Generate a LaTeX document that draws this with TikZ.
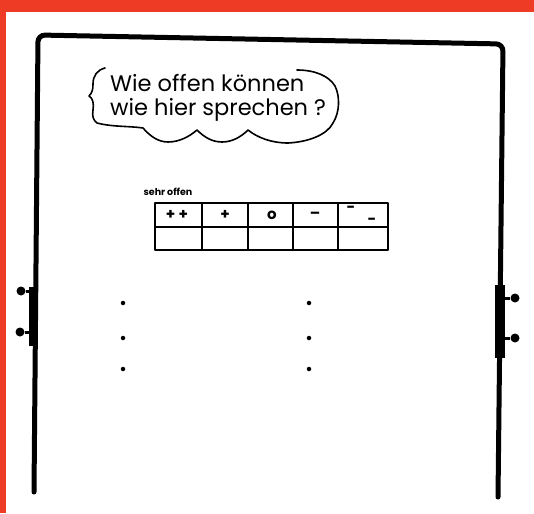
\documentclass[tikz,border=0pt]{standalone}
\usepackage{fontspec}
\setmainfont{Poppins}
\usetikzlibrary{
    positioning
}
\definecolor{rahmenrot}{RGB}{237,59,37}
\tikzset{
    tafel/.style={
        line width=5pt,
        line cap=round,
        rounded corners=7pt
    },
    stift/.style={
        line width=1.8pt,
        line cap=round,
        line join=round
    },
    schrift/.style={
        anchor=west,
        inner sep=0pt,
        font=\fontsize{22.5}{22.5}\selectfont
    },
    zelle/.style={
        inner sep=0pt,
        font=\fontsize{15}{15}\selectfont\bfseries
    },
    knopf/.style={
        circle,
        fill,
        inner sep=0pt,
        minimum size=9pt
    },
    punkt/.style={
        circle,
        fill,
        inner sep=0pt,
        minimum size=4.5pt
    }
}

\begin{document}
\begin{tikzpicture}[
    x=1pt,
    y=-1pt
]

    \useasboundingbox (0,0) rectangle (534,513);

    % Rand
    \fill[rahmenrot] (0,0) rectangle (534,12);
    \fill[rahmenrot] (0,0) rectangle (6,513);

    % Tafel
    \draw[tafel] (34,492) -- (38,35) -- (503,44) -- (498,497);
    \fill (29,287) rectangle (38,346);
    \fill (495,285) rectangle (505,358);

    % Knoepfe
    \node[knopf] (kl1) at (21,291) {};
    \node[knopf] (kl2) at (20,332) {};
    \node[knopf] (kr1) at (515,298) {};
    \node[knopf] (kr2) at (515,338) {};
    \coordinate (hl1) at (30,291);
    \coordinate (hl2) at (30,332);
    \coordinate (hr1) at (504,298);
    \coordinate (hr2) at (504,338);
    \draw[line width=3pt]
        (kl1) -- (hl1)
        (kl2) -- (hl2)
        (kr1) -- (hr1)
        (kr2) -- (hr2);

    % Sprechblase
    \draw[stift, line width=1.6pt]
        (105,68) .. controls (97,70) and (93,76) .. (93,84)
        .. controls (93,90) and (92,93) .. (89,96)
        .. controls (93,98) and (94,104) .. (93,110)
        .. controls (92,116) and (93,120) .. (97,123)
        .. controls (112,127) and (130,126) .. (143,128)
        .. controls (150,136) and (158,142) .. (168,142)
        .. controls (180,142) and (190,136) .. (197,130)
        .. controls (204,137) and (212,142) .. (222,142)
        .. controls (233,142) and (242,136) .. (248,130)
        .. controls (258,138) and (272,143) .. (288,143)
        .. controls (308,142) and (327,135) .. (333,123)
        .. controls (340,112) and (340,96) .. (335,86)
        .. controls (329,76) and (315,70) .. (297,70);
    \node[schrift] (z1) at (110,83)  {Wie offen können};
    \node[schrift] (z2) at (110,110) {wie hier sprechen ?};

    % Skala
    \node[inner sep=0pt, font=\fontsize{9.5}{9.5}\selectfont\bfseries]
        (sehr) at (168,192) {sehr offen};
    \draw[stift] (155,203) rectangle (388,250);
    \draw[stift] (155,227) -- (388,227);
    \foreach \x in {202,248,293,338}
        \draw[stift] (\x,203) -- (\x,250);
    \node[zelle] (s1) at (177,215) {+\ +};
    \node[zelle] (s2) at (225,215) {+};
    \node[zelle] (s3) at (272,215) {o};
    \node[zelle] (s4) at (315,215) {--};
    \node[zelle] (s5) at (351,209) {-};
    \node[zelle] (s6) at (372,221) {-};

    % Punkte
    \foreach \y [count=\i] in {303,338,369} {
        \node[punkt] (pl\i) at (123,\y) {};
        \node[punkt] (pr\i) at (309,\y) {};
    }

\end{tikzpicture}
\end{document}
